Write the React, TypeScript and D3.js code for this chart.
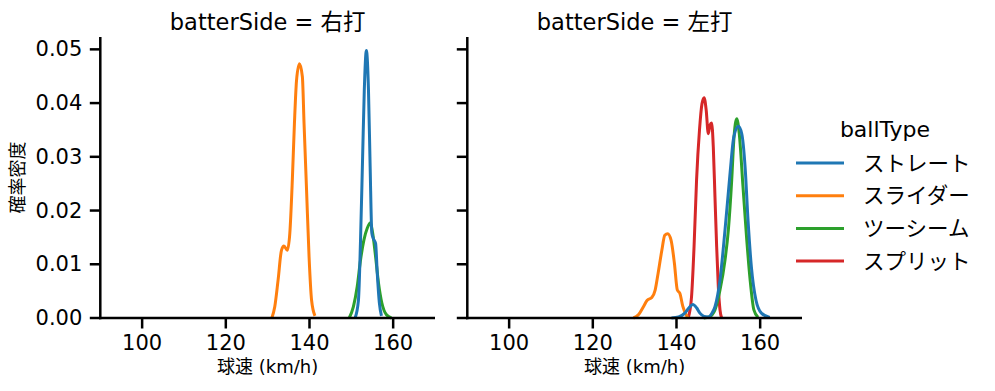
import React from "react";
import * as d3 from "d3";

const BALL_TYPES = ["ストレート", "スライダー", "ツーシーム", "スプリット"];
const COLORS = ["#1f77b4", "#ff7f0e", "#2ca02c", "#d62728"];
const PANEL_TITLES = ["batterSide = 右打", "batterSide = 左打"];
const X_TICKS = [100, 120, 140, 160];
const Y_TICKS = [0, 0.01, 0.02, 0.03, 0.04, 0.05];

// 右打 densities
const R_STRAIGHT_X = [150.9, 151.7, 152.2, 152.7, 153.1, 153.6, 154.1, 154.5, 154.9, 155.3, 155.8, 156.2, 156.7, 157.2];
const R_STRAIGHT_Y = [0, 0.0033, 0.0145, 0.03, 0.0424, 0.0498, 0.0424, 0.0281, 0.0158, 0.0147, 0.0139, 0.0083, 0.0028, 0.0004];
const R_SLIDER_X = [131.0, 131.7, 132.5, 133.3, 133.9, 134.7, 135.3, 135.9, 136.4, 136.9, 137.6, 138.3, 138.7, 139.3, 139.9, 140.5, 141.3];
const R_SLIDER_Y = [0, 0.0021, 0.0071, 0.0126, 0.0134, 0.0126, 0.0158, 0.0257, 0.0362, 0.0442, 0.0473, 0.0449, 0.0362, 0.0238, 0.0114, 0.0033, 0.0004];
const R_TWOSEAM_X = [149.5, 150.5, 151.4, 152.2, 153.0, 153.8, 154.5, 155.1, 155.7, 156.5, 157.3, 158.4, 159.6];
const R_TWOSEAM_Y = [0, 0.0021, 0.0058, 0.0108, 0.0145, 0.0167, 0.0177, 0.0158, 0.0121, 0.0065, 0.0028, 0.0006, 0];

// 左打 densities
const L_STRAIGHT_X = [138.8, 140.5, 142.0, 143.0, 143.9, 144.8, 145.6, 146.6, 147.6, 148.4, 149.2, 150.4, 151.6, 152.8, 153.7, 154.8, 155.6, 156.4, 157.1, 157.9, 159.0, 160.3, 162.3];
const L_STRAIGHT_Y = [0, 0.0002, 0.0009, 0.0019, 0.0025, 0.0019, 0.0009, 0.0003, 0.0002, 0.0008, 0.0021, 0.0071, 0.0164, 0.0269, 0.0337, 0.0357, 0.0343, 0.0281, 0.0182, 0.0095, 0.0033, 0.0009, 0.0001];
const L_SLIDER_X = [129.7, 130.9, 132.1, 133.0, 134.1, 134.9, 135.6, 136.5, 137.2, 137.9, 138.7, 139.5, 140.2, 140.8, 141.5, 142.3, 142.8];
const L_SLIDER_Y = [0, 0.0006, 0.0021, 0.0033, 0.0038, 0.0052, 0.0083, 0.0126, 0.0154, 0.0157, 0.0145, 0.0102, 0.0052, 0.0046, 0.0022, 0.0006, 0];
const L_TWOSEAM_X = [146.5, 147.8, 149.2, 150.4, 151.6, 152.4, 153.2, 153.7, 154.4, 155.0, 155.9, 156.8, 157.6, 158.5, 159.5];
const L_TWOSEAM_Y = [0, 0.0002, 0.0015, 0.0052, 0.0108, 0.0164, 0.0257, 0.0331, 0.0371, 0.0343, 0.0244, 0.0145, 0.0071, 0.0015, 0.0001];
const L_SPLIT_X = [142.8, 143.6, 144.2, 144.8, 145.5, 146.1, 146.6, 147.1, 147.6, 148.0, 148.4, 148.8, 149.2, 149.6, 150.0, 150.4, 150.8];
const L_SPLIT_Y = [0, 0.004, 0.0133, 0.0257, 0.035, 0.0399, 0.041, 0.0387, 0.0343, 0.0359, 0.0363, 0.0318, 0.0225, 0.0133, 0.0058, 0.0015, 0];

type Curve = { type: number; xs: number[]; ys: number[] };

const PANELS: Curve[][] = [
  [
    { type: 0, xs: R_STRAIGHT_X, ys: R_STRAIGHT_Y },
    { type: 1, xs: R_SLIDER_X, ys: R_SLIDER_Y },
    { type: 2, xs: R_TWOSEAM_X, ys: R_TWOSEAM_Y },
  ],
  [
    { type: 0, xs: L_STRAIGHT_X, ys: L_STRAIGHT_Y },
    { type: 1, xs: L_SLIDER_X, ys: L_SLIDER_Y },
    { type: 2, xs: L_TWOSEAM_X, ys: L_TWOSEAM_Y },
    { type: 3, xs: L_SPLIT_X, ys: L_SPLIT_Y },
  ],
];

const FONT = "'DejaVu Sans', 'Noto Sans CJK JP', sans-serif";
const W = 995;
const H = 391;
const TOP = 37;
const BOTTOM = 318;
const PANEL_LEFT = [100.3, 467.3];
const PANEL_WIDTH = 334.7;
const TICK = 10.5;

export default function App() {
  const y = d3.scaleLinear().domain([0, 0.0523]).range([BOTTOM, TOP]);

  return (
    <div style={{ position: "absolute", left: 0, top: 0 }}>
      <svg width={W} height={H} style={{ background: "#fff", display: "block" }} fontFamily={FONT}>
        {PANELS.map((curves, pi) => {
          const x0 = PANEL_LEFT[pi];
          const x = d3.scaleLinear().domain([90, 170]).range([x0, x0 + PANEL_WIDTH]);
          const cx = x0 + PANEL_WIDTH / 2;
          return (
            <g key={pi}>
              <text x={cx} y={29.5} textAnchor="middle" fontSize={22.5} fill="#000">
                {PANEL_TITLES[pi]}
              </text>
              {/* curves: blue drawn last so it sits on top */}
              {[...curves].reverse().map((c) => {
                const pts = c.xs.map((v, i) => [x(v), y(c.ys[i])] as [number, number]);
                const d = d3.line().curve(d3.curveMonotoneX)(pts) || "";
                return (
                  <path
                    key={c.type}
                    d={d}
                    fill="none"
                    stroke={COLORS[c.type]}
                    strokeWidth={3}
                    strokeLinejoin="round"
                  />
                );
              })}
              {/* spines */}
              <line x1={x0} x2={x0} y1={TOP} y2={BOTTOM + 1.25} stroke="#000" strokeWidth={2.5} />
              <line x1={x0 - 1.25} x2={x0 + PANEL_WIDTH} y1={BOTTOM} y2={BOTTOM} stroke="#000" strokeWidth={2.5} />
              {Y_TICKS.map((t) => (
                <g key={t}>
                  <line x1={x0 - TICK} x2={x0} y1={y(t)} y2={y(t)} stroke="#000" strokeWidth={2.5} />
                  {pi === 0 && (
                    <text x={x0 - 18} y={y(t)} dy="0.34em" textAnchor="end" fontSize={21} fill="#000">
                      {t.toFixed(2)}
                    </text>
                  )}
                </g>
              ))}
              {X_TICKS.map((t) => (
                <g key={t}>
                  <line x1={x(t)} x2={x(t)} y1={BOTTOM} y2={BOTTOM + TICK} stroke="#000" strokeWidth={2.5} />
                  <text x={x(t)} y={350} textAnchor="middle" fontSize={21} fill="#000">
                    {t}
                  </text>
                </g>
              ))}
              <text x={cx} y={373} textAnchor="middle" fontSize={18} fill="#000">
                球速 (km/h)
              </text>
            </g>
          );
        })}
        <text
          transform={`translate(24, ${(TOP + BOTTOM) / 2}) rotate(-90)`}
          textAnchor="middle"
          fontSize={18}
          fill="#000"
        >
          確率密度
        </text>
        {/* legend */}
        <text x={885} y={137} textAnchor="middle" fontSize={22} fill="#000">
          ballType
        </text>
        {BALL_TYPES.map((b, i) => {
          const ly = 163 + i * 32.7;
          return (
            <g key={b}>
              <line x1={796} x2={844} y1={ly} y2={ly} stroke={COLORS[i]} strokeWidth={3} />
              <text x={863} y={ly} dy="0.36em" fontSize={21.5} fill="#000">
                {b}
              </text>
            </g>
          );
        })}
      </svg>
    </div>
  );
}
